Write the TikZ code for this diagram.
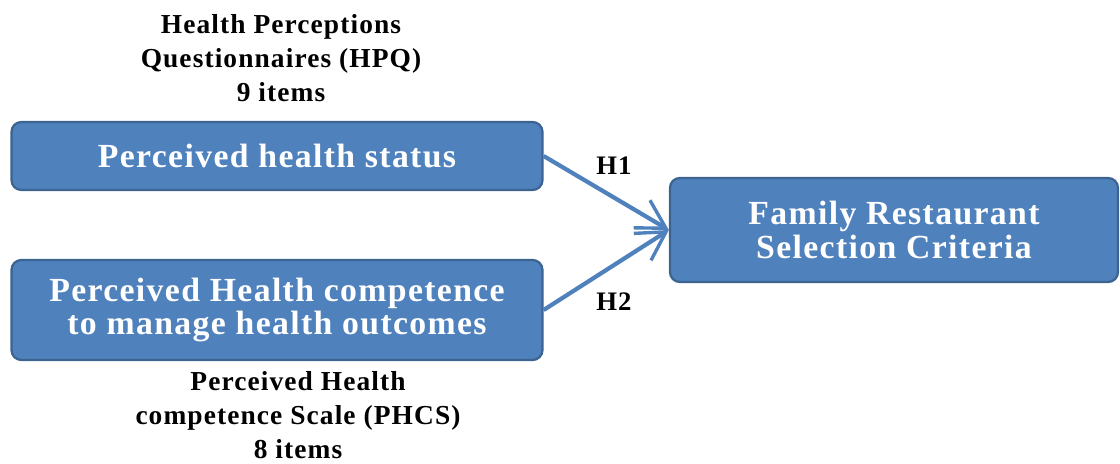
\documentclass[tikz,border=0pt]{standalone}
\usepackage{fontspec}
\setmainfont{Liberation Serif}
\newfontfamily\spacedserif[LetterSpace=4]{Liberation Serif}
\usetikzlibrary{arrows.meta}
\definecolor{boxfill}{HTML}{4F81BD}
\definecolor{boxline}{HTML}{3B6491}
\tikzset{
  varbox/.style={draw=boxline, line width=1.6pt, fill=boxfill, rounded corners=7pt,
    text=white, font=\spacedserif\bfseries\fontsize{24}{24}\selectfont, align=center, inner sep=0pt},
  scalelabel/.style={font=\spacedserif\bfseries\fontsize{19.5}{24}\selectfont, align=center},
  hyplabel/.style={font=\spacedserif\bfseries\fontsize{19}{20}\selectfont},
  hyparrow/.style={draw=boxfill, line width=3pt, -{Straight Barb[length=7mm,width=8mm,line width=2.4pt]}}
}
\begin{document}
\begin{tikzpicture}[x=0.025cm, y=-0.025cm]
    \useasboundingbox (0,0) rectangle (1120,464);
    % variables
    \node[varbox, minimum width=531*0.025cm, minimum height=68*0.025cm] (status) at (277,156) {Perceived health status};
    \node[varbox, minimum width=531*0.025cm, minimum height=100*0.025cm] (competence) at (277,310) {Perceived Health competence\\to manage health outcomes};
    \node[varbox, minimum width=448*0.025cm, minimum height=104*0.025cm] (criteria) at (894,230) {Family Restaurant\\Selection Criteria};
    % scales
    \node[scalelabel] (hpq) at (281,58) {Health Perceptions\\Questionnaires (HPQ)\\9 items};
    \node[scalelabel] (phcs) at (298,415) {Perceived Health\\competence Scale (PHCS)\\8 items};
    % hypotheses
    \draw[hyparrow] (status.east) -- (criteria.west);
    \draw[hyparrow] (competence.east) -- (criteria.west);
    \node[hyplabel] (h1) at (614,166) {H1};
    \node[hyplabel] (h2) at (614,302) {H2};
\end{tikzpicture}
\end{document}
